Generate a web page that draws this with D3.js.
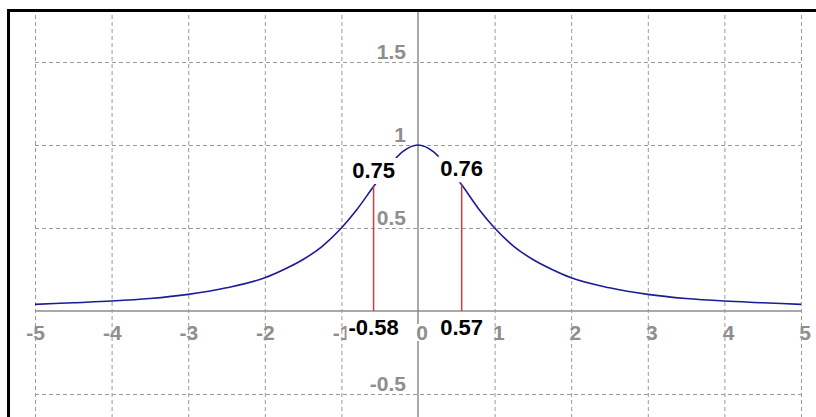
<!DOCTYPE html>
<html>
<head>
<meta charset="utf-8">
<script src="https://cdn.jsdelivr.net/npm/d3@7"></script>
<style>
  body { margin: 0; background: #fff; }
  svg { display: block; }
</style>
</head>
<body>
<script>
// curve
const curveX = [-5, -4.5, -4, -3.5, -3, -2.5, -2, -1.75, -1.5, -1.25, -1, -0.8, -0.58, -0.4, -0.2, 0, 0.2, 0.4, 0.57, 0.8, 1, 1.25, 1.5, 1.75, 2, 2.5, 3, 3.5, 4, 4.5, 5]
const curveY = [0.04, 0.05, 0.06, 0.075, 0.10, 0.14, 0.20, 0.25, 0.31, 0.39, 0.50, 0.61, 0.75, 0.86, 0.96, 1.0, 0.96, 0.86, 0.76, 0.61, 0.50, 0.39, 0.31, 0.25, 0.20, 0.14, 0.10, 0.075, 0.06, 0.05, 0.04]

// marked points
const markX = [-0.58, 0.57]
const markY = [0.75, 0.76]

// axis ticks
const xTicks = [-5, -4, -3, -2, -1, 0, 1, 2, 3, 4, 5]
const yTicks = [-0.5, 0.5, 1, 1.5]
const yTickLabels = ['-0.5', '0.5', '1', '1.5']

const W = 816, H = 417

const x = d3.scaleLinear().domain([-5, 5]).range([35, 801])
const y = d3.scaleLinear().domain([0, 1]).range([311, 145])

const svg = d3.select('body').append('svg')
    .attr('width', W)
    .attr('height', H)

const GRID = '#9a9a9a'
const AXIS = '#8c8c8c'
const FONT = '"Liberation Sans", Arial, sans-serif'

// axes
svg.append('line')
    .attr('x1', x(-5)).attr('x2', x(5))
    .attr('y1', y(0)).attr('y2', y(0))
    .attr('stroke', AXIS).attr('stroke-width', 1.5)
svg.append('line')
    .attr('x1', x(0)).attr('x2', x(0))
    .attr('y1', 12).attr('y2', H)
    .attr('stroke', AXIS).attr('stroke-width', 1.5)

// text with an opaque white box behind it
function labelWithBg(g, tx, ty, str, anchor, opts) {
    const t = g.append('text')
        .attr('x', tx).attr('y', ty)
        .attr('text-anchor', anchor)
        .style('font-family', opts.family)
        .style('font-size', opts.size + 'px')
        .style('font-weight', opts.weight)
        .attr('fill', opts.fill)
        .text(str)
    const b = t.node().getBBox()
    g.insert('rect', () => t.node())
        .attr('x', b.x - opts.padX).attr('y', b.y + opts.padTop)
        .attr('width', b.width + 2 * opts.padX)
        .attr('height', b.height - opts.padTop + opts.padBottom)
        .attr('fill', '#fff')
    return t
}

// tick labels
const tickG = svg.append('g')
const tickOpts = { family: FONT, size: 21, weight: 'bold', fill: '#8e8e8e', padX: 0, padTop: 3, padBottom: -3 }
xTicks.forEach(v => {
    labelWithBg(tickG, x(v) + 10, 340, String(v), 'end', tickOpts)
})
yTicks.forEach((v, i) => {
    labelWithBg(tickG, 406, y(v) - 3, yTickLabels[i], 'end', tickOpts)
})

// grid
const gridG = svg.append('g')
    .attr('stroke', GRID)
    .attr('stroke-width', 1)
    .attr('stroke-dasharray', '4 3')
gridG.selectAll('line.v')
    .data(xTicks.filter(d => d !== 0))
    .join('line')
    .attr('x1', d => x(d) + 0.5).attr('x2', d => x(d) + 0.5)
    .attr('y1', 15).attr('y2', H)
gridG.selectAll('line.h')
    .data(yTicks)
    .join('line')
    .attr('x1', x(-5)).attr('x2', x(5))
    .attr('y1', d => y(d) + 0.5).attr('y2', d => y(d) + 0.5)

// curve
const pts = curveX.map((d, i) => [d, curveY[i]])
svg.append('path')
    .datum(pts)
    .attr('fill', 'none')
    .attr('stroke', '#1c1c96')
    .attr('stroke-width', 1.6)
    .attr('d', d3.line().x(d => x(d[0])).y(d => y(d[1])).curve(d3.curveMonotoneX))

// red drop lines
svg.selectAll('line.drop')
    .data(markX)
    .join('line')
    .attr('x1', d => x(d)).attr('x2', d => x(d))
    .attr('y1', y(0)).attr('y2', (d, i) => y(markY[i]))
    .attr('stroke', '#d23c3c')
    .attr('stroke-width', 1.5)

// value labels
const valG = svg.append('g')
const valOpts = { family: FONT, size: 22, weight: 'bold', fill: '#000', padX: 2, padTop: 0, padBottom: 1 }
markX.forEach((d, i) => {
    labelWithBg(valG, x(d), y(markY[i]) - 8.5, markY[i].toFixed(2), 'middle', valOpts)
    labelWithBg(valG, x(d), 335, d.toFixed(2), 'middle', valOpts)
})

// frame
svg.append('rect')
    .attr('x', 8.5).attr('y', 10.5)
    .attr('width', W).attr('height', H)
    .attr('fill', 'none')
    .attr('stroke', '#000')
    .attr('stroke-width', 3)
</script>
</body>
</html>
